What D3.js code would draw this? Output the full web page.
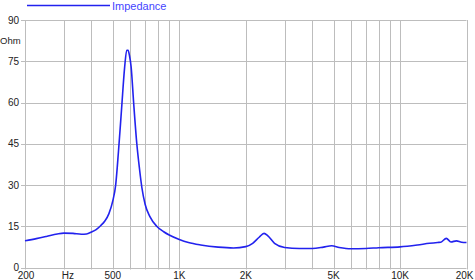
<!DOCTYPE html>
<html>
<head>
<meta charset="utf-8">
<script src="https://cdnjs.cloudflare.com/ajax/libs/d3/7.8.5/d3.min.js"></script>
<style>
	body { margin: 0; background: #fff; }
	svg { display: block; font-family: "Liberation Sans", Arial, sans-serif; }
</style>
</head>
<body>
<svg id="chart" width="475" height="280"></svg>
<script>
(function(){

	// impedance curve (Hz, Ohm)
	var freqs = [200, 225, 250, 280, 300, 330, 360, 380, 400, 420, 440, 460, 480, 500, 515, 530, 548, 565, 578, 586, 595, 605, 621, 642, 660, 677, 700, 736, 790, 850, 900, 1000, 1100, 1250, 1500, 1760, 2000, 2150, 2300, 2420, 2520, 2700, 3000, 3500, 4000, 4500, 4900, 5300, 6000, 7000, 8000, 10000, 12000, 13600, 14800, 15300, 16200, 17000, 18000, 19000, 20000];
	var ohms = [9.7, 10.5, 11.3, 12.2, 12.5, 12.4, 12.1, 12.2, 12.9, 13.8, 15.2, 16.9, 19.6, 24.3, 30, 42, 58, 72.5, 79, 79, 77, 73, 60, 45, 36, 29, 23, 18.5, 15, 13, 11.8, 10.2, 9.1, 8.2, 7.4, 7.1, 7.6, 8.8, 11, 12.4, 11.5, 8.8, 7.3, 6.9, 6.9, 7.4, 7.9, 7.3, 6.8, 6.9, 7.2, 7.5, 8.2, 8.8, 9.1, 9.2, 10.6, 9.3, 9.7, 9.2, 9.1];

	var gridFreqs = [200, 300, 400, 500, 600, 700, 800, 900, 1000, 2000, 3000, 4000, 5000, 6000, 7000, 8000, 9000, 10000, 20000];
	var xLabelFreqs = [200, 300, 500, 1000, 2000, 5000, 10000, 20000];
	var xLabels = ["200", "Hz", "500", "1K", "2K", "5K", "10K", "20K"];
	var yTicks = [0, 15, 30, 45, 60, 75, 90];
	var seriesName = "Impedance";
	var unitLabel = "Ohm";

	var margin = {top: 20, right: 8, bottom: 12.5, left: 25};
	var svg = d3.select("#chart");
	var width = +svg.attr("width") - margin.left - margin.right;
	var height = +svg.attr("height") - margin.top - margin.bottom;

	var x = d3.scaleLog().domain([200, 20000]).range([0, width - 0.5]);
	var y = d3.scaleLinear().domain([0, 90]).range([height, 0]);

	var g = svg.append("g")
		.attr("transform", "translate(" + margin.left + "," + margin.top + ")");

	// horizontal grid
	g.append("g")
		.selectAll("line")
		.data(yTicks)
		.enter().append("line")
			.attr("x1", -4)
			.attr("x2", x(20000))
			.attr("y1", function(d){ return Math.round(y(d)) + 0.5; })
			.attr("y2", function(d){ return Math.round(y(d)) + 0.5; })
			.attr("stroke", "#bdbdbd")
			.attr("stroke-width", 1);

	// vertical grid
	g.append("g")
		.selectAll("line")
		.data(gridFreqs)
		.enter().append("line")
			.attr("x1", function(d){ return Math.round(x(d)) + 0.5; })
			.attr("x2", function(d){ return Math.round(x(d)) + 0.5; })
			.attr("y1", 0)
			.attr("y2", height + 2)
			.attr("stroke", "#bdbdbd")
			.attr("stroke-width", 1);

	// y labels
	g.append("g")
		.selectAll("text")
		.data(yTicks)
		.enter().append("text")
			.attr("x", -6)
			.attr("y", function(d){ return y(d); })
			.attr("dy", "0.35em")
			.attr("text-anchor", "end")
			.attr("font-size", 10)
			.attr("fill", "#222")
			.text(function(d){ return d; });

	svg.append("text")
		.attr("x", 0)
		.attr("y", margin.top + (y(90) + y(75)) / 2)
		.attr("dy", "0.35em")
		.attr("font-size", 9.5)
		.attr("fill", "#222")
		.text(unitLabel);

	// x labels
	g.append("g")
		.selectAll("text")
		.data(xLabelFreqs)
		.enter().append("text")
			.attr("x", function(d, i){ return x(d) + (xLabels[i] === "Hz" ? 4 : 0); })
			.attr("y", height + 11.5)
			.attr("text-anchor", function(d, i){ return i === xLabels.length - 1 ? "end" : "middle"; })
			.attr("dx", function(d, i){ return i === xLabels.length - 1 ? 7 : (i === 0 ? 1 : 0); })
			.attr("font-size", 10)
			.attr("fill", "#222")
			.text(function(d, i){ return xLabels[i]; });

	// curve
	var pts = freqs.map(function(f, i){ return [f, ohms[i]]; });
	var line = d3.line()
		.x(function(d){ return x(d[0]); })
		.y(function(d){ return y(d[1]); })
		.curve(d3.curveMonotoneX);

	g.append("path")
		.datum(pts)
		.attr("d", line)
		.attr("fill", "none")
		.attr("stroke", "#2222ee")
		.attr("stroke-width", 1.6);

	// legend
	svg.append("line")
		.attr("x1", 27)
		.attr("x2", 110)
		.attr("y1", 5.5)
		.attr("y2", 5.5)
		.attr("stroke", "#2222ee")
		.attr("stroke-width", 1.5);

	svg.append("text")
		.attr("x", 112)
		.attr("y", 9.5)
		.attr("font-size", 11)
		.attr("fill", "#4444ff")
		.text(seriesName);

})();
</script>
</body>
</html>
